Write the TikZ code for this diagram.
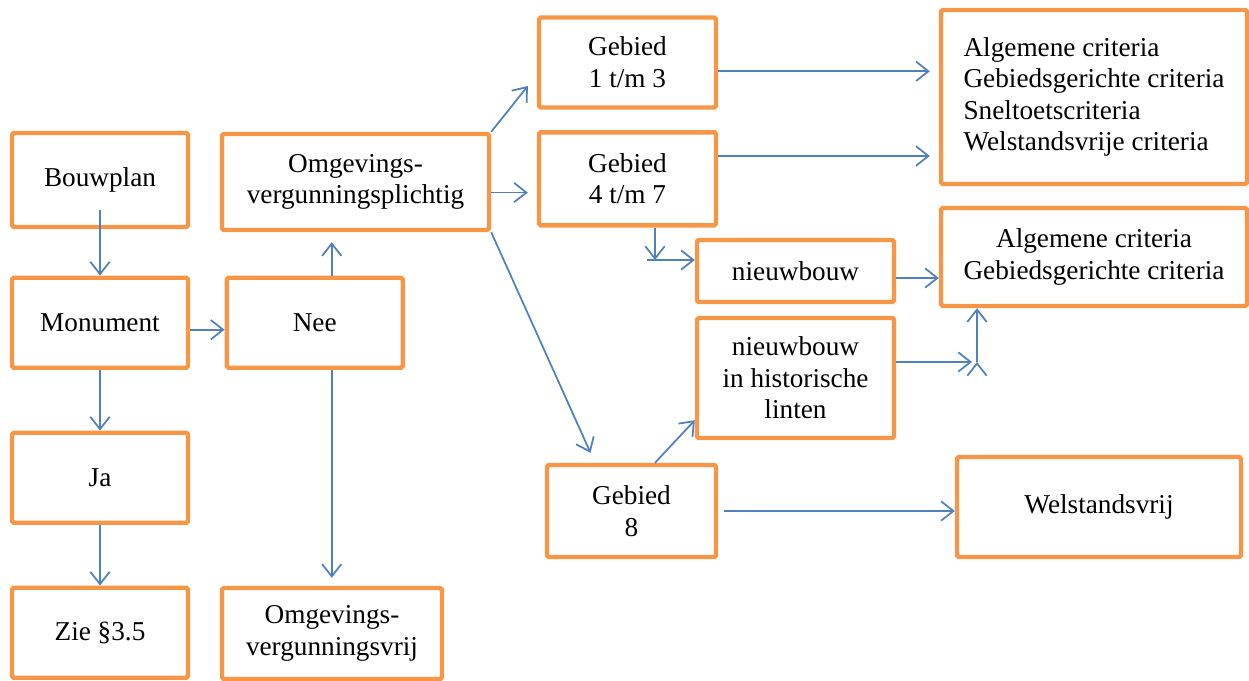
\documentclass[tikz,border=0pt]{standalone}
\usepackage{fontspec}
\setmainfont{Liberation Serif}
\usepackage[dvipsnames]{xcolor}
\usetikzlibrary{arrows.meta}
\definecolor{kaderoranje}{HTML}{F79646}
\definecolor{pijlblauw}{HTML}{4F81BD}

\begin{document}
\begin{tikzpicture}[->,>={Straight Barb[length=7pt,width=11pt]},thick,node distance=3.1cm,
    main node/.style={draw=kaderoranje,line width=2.5pt,rounded corners=1pt,align=center,minimum width=3.52cm,minimum height=1.8cm,font=\fontsize{15.5}{18}\selectfont},
    link/.style={draw=pijlblauw,line width=1pt}]
            \useasboundingbox (0,0) rectangle (24.98,-13.6);

            % linker kolom
            \node[main node, minimum height=1.88cm] (bouwplan) at (2,-3.6) {Bouwplan};
            \node[main node] (monument) [below of = bouwplan, yshift = 7] {Monument};
            \node[main node] (ja) [below of = monument] {Ja};
            \node[main node] (zie) [below of = ja] {Zie §3.5};

            \node[main node] (nee) [right of = monument, xshift = 34] {Nee};
            \node[main node, minimum width=5.34cm, minimum height=1.92cm] (plichtig) at (7.11,-3.64) {Omgevings-\\vergunningsplichtig};
            \node[main node, minimum width=4.4cm, minimum height=1.82cm] (vrij) at (6.64,-12.67) {Omgevings-\\vergunningsvrij};

            % gebieden
            \node[main node, minimum width=3.54cm] (g13) at (12.55,-1.25) {Gebied\\1 t/m 3};
            \node[main node, minimum width=3.54cm, minimum height=1.86cm] (g47) [below of = g13, yshift = 22] {Gebied\\4 t/m 7};
            \node[main node, minimum width=3.38cm, minimum height=1.84cm] (g8) at (12.63,-10.22) {Gebied\\8};
            \node[main node, minimum width=3.94cm, minimum height=1.24cm] (nieuw) at (15.91,-5.42) {nieuwbouw};
            \node[main node, minimum width=3.94cm, minimum height=2.4cm] (hist) at (15.91,-7.56) {nieuwbouw\\in historische\\linten};

            % criteria
            \node[main node, align=left, minimum width=6.12cm, minimum height=3.48cm] (alg4) at (21.88,-1.94) {Algemene criteria\\Gebiedsgerichte criteria\\Sneltoetscriteria\\Welstandsvrije criteria};
            \node[main node, minimum width=6.12cm, minimum height=1.96cm] (alg2) at (21.88,-5.14) {Algemene criteria\\Gebiedsgerichte criteria};
            \node[main node, minimum width=5.68cm, minimum height=2cm] (welstand) at (21.98,-10.14) {Welstandsvrij};

            \coordinate (knik) at (13.1,-5.2);
            \coordinate (knik2) at (19.54,-7.24);

            \path[link]
                (monument) edge (ja)
                (ja) edge (zie)
                (g8.east) edge[shorten <=0.12cm] (g8.east -| welstand.west)
                (knik2) edge (knik2 |- alg2.south)
                ;
            \draw[link, shorten <=-0.38cm] (bouwplan) -- (monument);
            \draw[link] ([yshift=-4pt]monument.east) -- ([yshift=-4pt]nee.west);
            \draw[link, shorten >=0.2cm] ([xshift=0.34cm]nee.north) -- ([xshift=0.34cm]nee.north |- plichtig.south);
            \draw[link, shorten >=0.16cm] ([xshift=0.34cm]nee.south) -- ([xshift=0.34cm]nee.south |- vrij.north);
            \draw[link] (plichtig.north east) -- ([xshift=-0.18cm,yshift=-0.47cm]g13.west);
            \draw[link, shorten >=0.18cm] ([yshift=-6pt]plichtig.east) -- ([yshift=-6pt]plichtig.east -| g47.west);
            \draw[link] (plichtig.south east) -- ([xshift=-0.82cm,yshift=0.2cm]g8.north);
            \draw[link, shorten >=0.18cm] ([yshift=-5pt]g13.east) -- ([yshift=-5pt]g13.east -| alg4.west);
            \draw[link, shorten >=0.18cm] ([yshift=13pt]g47.east) -- ([yshift=13pt]g47.east -| alg4.west);
            \draw[link] ([xshift=0.55cm]g47.south) -- (knik);
            \draw[link] ([xshift=-0.16cm]knik) -- (knik -| nieuw.west);
            \draw[link] ([yshift=-0.14cm]nieuw.east) -- ([yshift=-0.14cm]nieuw.east -| alg2.west);
            \draw[link] ([yshift=0.32cm]hist.east) -- ([xshift=-0.1cm]knik2);
            \draw[link] ([xshift=0.47cm]g8.north) -- ([yshift=0.4cm]hist.south west);
        \end{tikzpicture}
\end{document}
